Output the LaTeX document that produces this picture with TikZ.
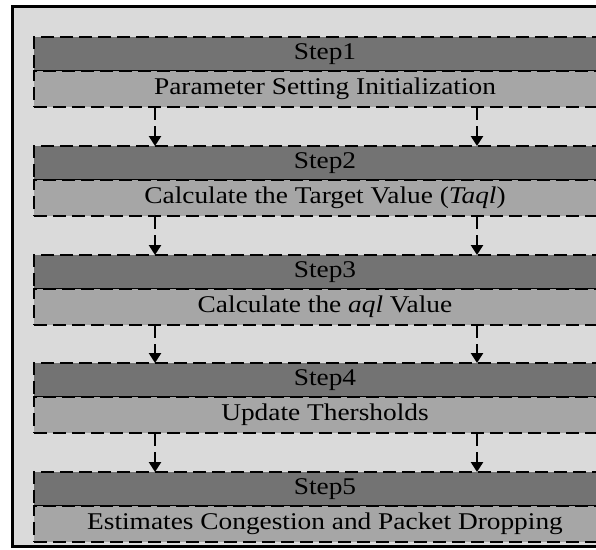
\documentclass[tikz,border=0pt]{standalone}
\usepackage{fontspec}
\setmainfont{Liberation Serif}[FakeStretch=1.14]
\usetikzlibrary{positioning,arrows.meta}
\definecolor{headgray}{HTML}{737373}
\definecolor{bodygray}{HTML}{A6A6A6}
\definecolor{backgray}{HTML}{DADADA}

\begin{document}
\begin{tikzpicture}[x=1pt,y=-1pt,
    dashline/.style={line width=2.8pt,dash pattern=on 13pt off 6pt},
    stephead/.style={dashline,draw,fill=headgray,outer sep=0pt,inner sep=0pt,
      minimum width=582pt,minimum height=34pt,font=\fontsize{24}{28}\selectfont},
    stepbody/.style={stephead,fill=bodygray,minimum height=36pt},
    flow/.style={dashline,-{Triangle[length=10pt,width=12pt]}}]
    \useasboundingbox (0,0) rectangle (596,549);
    \clip (0,0) rectangle (596,549);
    \fill[backgray] (12,6) rectangle (640,546);
    \draw[line width=3pt] (12,6) rectangle (640,546);
    \coordinate (lx) at (155,0);
    \coordinate (rx) at (477,0);
    % the five steps
    \node[stephead] (head1) at (325,54) {Step1};
    \node[stepbody,below=0pt of head1] (body1) {Parameter Setting Initialization};
    \node[stephead,below=39pt of body1] (head2) {Step2};
    \node[stepbody,below=0pt of head2] (body2) {Calculate the Target Value (\textit{Taql})};
    \node[stephead,below=39pt of body2] (head3) {Step3};
    \node[stepbody,below=0pt of head3] (body3) {Calculate the \textit{aql} Value};
    \node[stephead,below=38pt of body3] (head4) {Step4};
    \node[stepbody,below=0pt of head4] (body4) {Update Thersholds};
    \node[stephead,below=39pt of body4] (head5) {Step5};
    \node[stepbody,below=0pt of head5] (body5) {Estimates Congestion and Packet Dropping};
    % arrows between steps
    \draw[flow] (body1.south -| lx) -- (head2.north -| lx); \draw[flow] (body1.south -| rx) -- (head2.north -| rx);
    \draw[flow] (body2.south -| lx) -- (head3.north -| lx); \draw[flow] (body2.south -| rx) -- (head3.north -| rx);
    \draw[flow] (body3.south -| lx) -- (head4.north -| lx); \draw[flow] (body3.south -| rx) -- (head4.north -| rx);
    \draw[flow] (body4.south -| lx) -- (head5.north -| lx); \draw[flow] (body4.south -| rx) -- (head5.north -| rx);
\end{tikzpicture}
\end{document}
